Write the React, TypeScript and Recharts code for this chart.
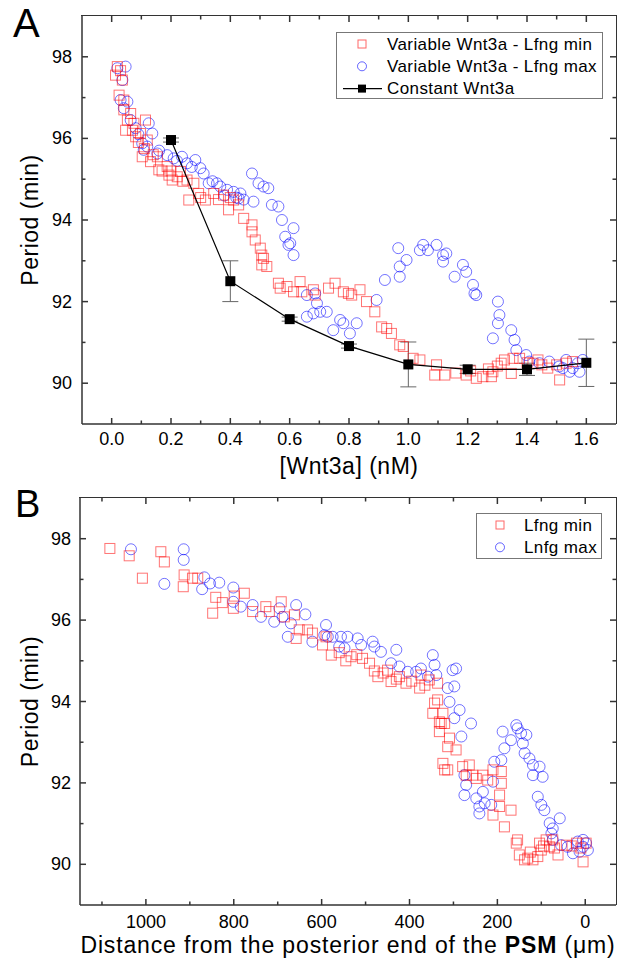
import React from 'react';
import { ScatterChart, Scatter, XAxis, YAxis, ErrorBar, Legend, Label } from 'recharts';

const FONT = '"Liberation Sans", Arial, sans-serif';
const RED = '#ff0000';
const BLUE = '#0000ff';
const AXIS = '#333';

// ---- panel A: period vs [Wnt3a] ----
const aMinX = [
  0.013, 0.019, 0.025, 0.03, 0.036, 0.041, 0.041, 0.047, 0.053, 0.064,
  0.07, 0.075, 0.081, 0.09, 0.097, 0.103, 0.11, 0.114, 0.12, 0.131,
  0.14, 0.154, 0.159, 0.17, 0.187, 0.193, 0.2, 0.204, 0.221, 0.232,
  0.24, 0.254, 0.26, 0.277, 0.293, 0.3, 0.316, 0.344, 0.36, 0.377,
  0.394, 0.4, 0.411, 0.428, 0.445, 0.473, 0.473, 0.484, 0.501, 0.506,
  0.512, 0.506, 0.523, 0.562, 0.568, 0.591, 0.613, 0.635, 0.641, 0.68,
  0.686, 0.731, 0.753, 0.781, 0.798, 0.809, 0.837, 0.859, 0.887, 0.91,
  0.927, 0.943, 0.971, 0.983, 1.016, 1.039, 1.089, 1.095, 1.123, 1.16,
  1.195, 1.21, 1.229, 1.251, 1.27, 1.28, 1.285, 1.3, 1.313, 1.324,
  1.347, 1.353, 1.375, 1.4, 1.42, 1.437, 1.45, 1.47, 1.5, 1.51,
  1.532, 1.554,
];
const aMinY = [
  97.55, 97.76, 97.06, 97.66, 97.43, 96.94, 96.7, 96.2, 96.45, 96.61,
  96.2, 96.37, 96.04, 95.9, 96.12, 95.55, 95.75, 96.45, 95.96, 95.43,
  95.6, 95.55, 95.23, 95.2, 95.31, 95.1, 95.2, 94.98, 95.06, 95.19,
  94.95, 94.98, 94.49, 94.9, 94.65, 94.55, 94.49, 94.65, 94.5, 94.61,
  94.25, 94.55, 94.49, 94.37, 94.04, 93.88, 93.71, 93.51, 93.31, 93.14,
  93.06, 92.9, 92.86, 92.45, 92.33, 92.37, 92.24, 92.49, 92.24, 92.29,
  92.16, 92.33, 92.45, 92.24, 92.2, 92.16, 92.29, 92.0, 91.75, 91.38,
  91.34, 91.22, 90.94, 90.9, 90.61, 90.57, 90.2, 90.45, 90.2, 90.25,
  90.2, 90.3, 90.12, 90.16, 90.35, 90.16, 90.28, 90.42, 90.49, 90.57,
  90.24, 90.61, 90.61, 90.5, 90.49, 90.57, 90.45, 90.37, 90.45, 90.08,
  90.49, 90.53,
];
const aMaxX = [
  0.019, 0.03, 0.036, 0.041, 0.047, 0.053, 0.064, 0.081, 0.09, 0.103,
  0.108, 0.12, 0.125, 0.137, 0.154, 0.16, 0.187, 0.209, 0.22, 0.237,
  0.254, 0.27, 0.282, 0.299, 0.31, 0.327, 0.34, 0.355, 0.366, 0.38,
  0.389, 0.411, 0.42, 0.428, 0.434, 0.445, 0.473, 0.478, 0.495, 0.512,
  0.528, 0.54, 0.562, 0.574, 0.585, 0.596, 0.602, 0.613, 0.613, 0.658,
  0.658, 0.68, 0.686, 0.692, 0.703, 0.725, 0.747, 0.77, 0.781, 0.803,
  0.826, 0.893, 0.921, 0.966, 0.971, 0.971, 0.994, 1.039, 1.05, 1.066,
  1.095, 1.117, 1.117, 1.128, 1.156, 1.184, 1.195, 1.218, 1.223, 1.229,
  1.285, 1.302, 1.302, 1.307, 1.347, 1.358, 1.364, 1.397, 1.408, 1.442,
  1.475, 1.509, 1.521, 1.532, 1.544, 1.554, 1.571, 1.577, 1.588,
];
const aMaxY = [
  97.72, 96.94, 97.43, 96.74, 97.76, 96.9, 96.45, 96.25, 96.1, 95.88,
  95.72, 95.8, 96.37, 96.12, 95.63, 95.7, 95.59, 95.51, 95.45, 95.55,
  95.39, 95.3, 95.47, 95.27, 95.14, 94.9, 94.95, 94.9, 94.82, 94.6,
  94.74, 94.69, 94.55, 94.53, 94.65, 94.5, 95.14, 94.45, 94.9, 94.82,
  94.78, 94.37, 94.33, 94.0, 93.59, 93.39, 93.43, 93.8, 93.14, 92.16,
  91.63, 91.71, 92.2, 91.96, 91.75, 91.75, 91.3, 91.55, 91.47, 91.22,
  91.47, 92.04, 92.53, 93.31, 92.86, 92.61, 93.02, 93.26, 93.39, 93.26,
  93.39, 93.14, 92.98, 93.18, 92.61, 92.9, 92.73, 92.41, 92.2, 92.16,
  91.1, 92.0, 91.47, 91.67, 91.3, 91.06, 90.81, 90.69, 90.53, 90.49,
  90.53, 90.41, 90.37, 90.57, 90.28, 90.37, 90.49, 90.28, 90.57,
];
const constX = [0.2, 0.4, 0.6, 0.8, 1.0, 1.2, 1.4, 1.6];
const constY = [95.96, 92.5, 91.57, 90.91, 90.46, 90.34, 90.34, 90.5];
const constErr = [0.05, 0.5, 0.05, 0.05, 0.55, 0.1, 0.15, 0.58];

const wntTicks = [0, 0.1, 0.2, 0.3, 0.4, 0.5, 0.6, 0.7, 0.8, 0.9, 1.0, 1.1, 1.2, 1.3, 1.4, 1.5, 1.6];
const periodTicks = [90, 91, 92, 93, 94, 95, 96, 97, 98];

// ---- panel B: period vs distance from posterior end ----
const bMinD = [
  1082, 1038, 1008, 966, 958, 913, 915, 894, 882, 841,
  826, 848, 799, 776, 801, 757, 727, 719, 692, 685,
  662, 651, 658, 632, 621, 598, 578, 590, 560, 545,
  533, 520, 507, 491, 480, 472, 460, 450, 442, 430,
  423, 408, 395, 377, 374, 365, 355, 336, 336, 347,
  324, 328, 343, 332, 320, 332, 309, 313, 294, 324,
  320, 313, 279, 264, 271, 256, 248, 233, 222, 210,
  191, 191, 195, 195, 210, 169, 184, 154, 157, 150,
  138, 131, 125, 119, 108, 100, 104, 95, 89, 81,
  74, 70, 62, 43, 30, 20, 10, 5, -2,
];
const bMinY = [
  97.76, 97.58, 97.03, 97.68, 97.43, 97.11, 96.82, 97.03, 97.03, 96.56,
  96.43, 96.17, 96.59, 96.66, 96.29, 96.21, 96.33, 96.21, 96.45, 96.08,
  96.13, 95.76, 95.55, 95.76, 95.68, 95.39, 95.14, 95.59, 95.2, 95.0,
  95.1, 95.15, 95.06, 94.94, 94.75, 94.61, 94.7, 94.77, 94.49, 94.55,
  94.61, 94.45, 94.5, 94.33, 94.65, 94.4, 94.53, 94.45, 94.04, 93.71,
  93.71, 93.46, 93.96, 93.5, 93.46, 93.26, 93.1, 92.89, 92.81, 92.48,
  92.32, 92.32, 92.4, 92.44, 92.19, 92.19, 92.11, 92.19, 92.07, 92.32,
  92.28, 91.99, 91.7, 91.42, 91.21, 91.33, 90.92, 90.6, 90.52, 90.23,
  90.11, 90.15, 90.3, 90.11, 90.19, 90.35, 90.52, 90.45, 90.6, 90.43,
  90.6, 90.4, 90.23, 90.47, 90.45, 90.52, 90.4, 90.06, 90.52,
];
const bMaxD = [
  1034, 914, 914, 958, 867, 872, 854, 833, 801, 801,
  784, 757, 738, 708, 696, 677, 658, 637, 689, 670,
  621, 590, 594, 575, 560, 586, 556, 541, 548, 518,
  510, 484, 480, 465, 430, 442, 423, 404, 385, 374,
  358, 347, 343, 339, 313, 302, 294, 298, 309, 286,
  298, 260, 282, 275, 271, 275, 248, 233, 241, 229,
  214, 241, 210, 207, 191, 184, 188, 169, 157, 154,
  146, 134, 142, 138, 127, 119, 104, 97, 119, 108,
  100, 93, 81, 58, 74, 77, 74, 55, 40, 28,
  17, 5, -2, -6, 13, 5,
];
const bMaxY = [
  97.74, 97.74, 97.48, 96.89, 97.05, 96.76, 96.9, 96.92, 96.8, 96.45,
  96.33, 96.37, 96.08, 95.96, 96.29, 95.59, 96.37, 96.14, 96.08, 95.92,
  95.47, 95.88, 95.63, 95.59, 95.35, 95.59, 95.59, 95.59, 95.31, 95.55,
  95.39, 95.47, 95.35, 95.22, 95.27, 94.94, 94.86, 94.73, 94.73, 94.81,
  94.61, 95.14, 94.9, 94.65, 94.33, 94.77, 94.81, 94.37, 93.99, 93.79,
  93.59, 93.46, 93.14, 92.19, 91.95, 91.7, 91.62, 91.78, 91.42, 91.5,
  91.46, 91.25, 92.03, 92.52, 92.56, 92.85, 93.26, 93.05, 93.42, 93.34,
  93.22, 93.18, 92.97, 92.73, 92.6, 92.44, 92.4, 92.15, 92.19, 91.66,
  91.46, 91.33, 91.01, 91.13, 90.88, 90.76, 90.6, 90.47, 90.43, 90.27,
  90.56, 90.43, 90.52, 90.35, 90.31, 90.6,
];
const distTicks = [0, 100, 200, 300, 400, 500, 600, 700, 800, 900, 1000, 1100];

const legendA = ['Variable Wnt3a - Lfng min', 'Variable Wnt3a - Lfng max', 'Constant Wnt3a'];
const legendB = ['Lfng min', 'Lnfg max'];

const zip = (xs: number[], ys: number[]) => xs.map((x, i) => ({ x, y: ys[i] }));
const aMin = zip(aMinX, aMinY);
const aMax = zip(aMaxX, aMaxY);
const constData = constX.map((x, i) => ({ x, y: constY[i], err: constErr[i] }));
const bMin = zip(bMinD, bMinY);
const bMax = zip(bMaxD, bMaxY);

const Square = (p: any) => (
  <rect x={p.cx - 5} y={p.cy - 5} width={10} height={10} fill="none" stroke={RED} strokeOpacity={0.55} strokeWidth={1} />
);
const Circle = (p: any) => (
  <circle cx={p.cx} cy={p.cy} r={5.5} fill="none" stroke={BLUE} strokeOpacity={0.55} strokeWidth={1} />
);
const Filled = (p: any) => <rect x={p.cx - 5} y={p.cy - 5} width={10} height={10} fill="#000" />;

// plot box sizes (chart size minus margins / axis bands)
const A_W = 534;
const A_H = 408;
const B_W = 536;
const B_H = 407;

// ticks point into the plot, Origin style, and are repeated on the opposite frame side;
// labels only on majors
function tickFor(side: 'bottom' | 'left', span: number, isMajor: (v: number) => boolean, fmt: (v: number) => string, gap: number) {
  return (p: any) => {
    const v = p.payload.value;
    const major = isMajor(v);
    const len = major ? 6 : 3.5;
    const x = p.x;
    const y = p.y;
    const tstyle = { fontSize: 18, fontFamily: FONT, fill: '#000' };
    if (side === 'bottom') {
      return (
        <g>
          <line x1={x} y1={y} x2={x} y2={y - len} stroke={AXIS} strokeWidth={1.5} />
          <line x1={x} y1={y - span} x2={x} y2={y - span + len} stroke={AXIS} strokeWidth={1.5} />
          {major ? (
            <text x={x} y={y + gap} textAnchor="middle" dominantBaseline="central" style={tstyle}>{fmt(v)}</text>
          ) : null}
        </g>
      );
    }
    return (
      <g>
        <line x1={x} y1={y} x2={x + len} y2={y} stroke={AXIS} strokeWidth={1.5} />
        <line x1={x + span} y1={y} x2={x + span - len} y2={y} stroke={AXIS} strokeWidth={1.5} />
        {major ? (
          <text x={x - gap} y={y} textAnchor="end" dominantBaseline="central" style={tstyle}>{fmt(v)}</text>
        ) : null}
      </g>
    );
  };
}

const evenMajor = (v: number) => Math.round(v) % 2 === 0;
const wntMajor = (v: number) => Math.round(v * 10) % 2 === 0;
const distMajor = (v: number) => v % 200 === 0;

const titleStyle = { fontSize: 23, fontFamily: FONT, fill: '#000', letterSpacing: 0.5 };

const periodLabel = (p: any) => {
  const vb = p.viewBox;
  const cy = vb.y + vb.height / 2;
  return (
    <text x={30} y={cy} transform={`rotate(-90, 30, ${cy})`} textAnchor="middle" dominantBaseline="central" style={titleStyle}>
      Period (min)
    </text>
  );
};

const wntLabel = (p: any) => {
  const vb = p.viewBox;
  return (
    <text x={vb.x + vb.width / 2} y={vb.y + 42} textAnchor="middle" dominantBaseline="central" style={titleStyle}>
      [Wnt3a] (nM)
    </text>
  );
};

const distLabel = (p: any) => {
  const vb = p.viewBox;
  return (
    <text
      x={vb.x + vb.width / 2} y={vb.y + 40} textAnchor="middle" dominantBaseline="central"
      style={{ ...titleStyle, letterSpacing: 0.85 }}
    >
      Distance from the posterior end of the <tspan fontWeight="bold">PSM</tspan> (μm)
    </text>
  );
};

function LegendBox({ labels, width, height, symX, textX }: any) {
  return (
    <svg width={width} height={height} style={{ display: 'block' }}>
      <rect x={0.5} y={0.5} width={width - 1} height={height - 1} fill="#fff" stroke="#777" strokeWidth={1} />
      {labels.map((lab: string, i: number) => {
        const cy = 12 + i * 22.3;
        let sym;
        if (i === 0) sym = <rect x={symX - 4} y={cy - 4} width={8} height={8} fill="none" stroke={RED} strokeOpacity={0.6} />;
        else if (i === 1) sym = <circle cx={symX} cy={cy} r={4.5} fill="none" stroke={BLUE} strokeOpacity={0.6} />;
        else
          sym = (
            <g>
              <line x1={symX - 19} y1={cy} x2={symX + 20} y2={cy} stroke="#000" strokeWidth={1.2} />
              <rect x={symX - 4} y={cy - 4} width={8} height={8} fill="#000" />
            </g>
          );
        return (
          <g key={lab}>
            {sym}
            <text x={textX} y={cy} dominantBaseline="central" style={{ fontSize: 17, fontFamily: FONT, fill: '#000', letterSpacing: 0.4 }}>
              {lab}
            </text>
          </g>
        );
      })}
    </svg>
  );
}

// top / right edges of each plot box
const frameStyle = (left: number, top: number, w: number, h: number) => ({
  position: 'absolute' as const,
  left, top, width: w, height: h,
  borderTop: `1.5px solid ${AXIS}`,
  borderRight: `1.5px solid ${AXIS}`,
  boxSizing: 'border-box' as const,
  pointerEvents: 'none' as const,
});

export default function App() {
  return (
    <div style={{ position: 'absolute', left: 0, top: 0, width: 625, height: 963, background: '#fff', overflow: 'hidden' }}>
      <div style={{ position: 'absolute', left: 0, top: 0 }}>
        <ScatterChart width={625} height={480} margin={{ top: 16, right: 9, left: 0, bottom: 0 }}>
          <XAxis
            dataKey="x" type="number" domain={[-0.1, 1.7]} allowDataOverflow ticks={wntTicks} interval={0}
            height={56} tickSize={0} tickMargin={0} tickLine={false}
            axisLine={{ stroke: AXIS, strokeWidth: 1.5 }}
            tick={tickFor('bottom', A_H, wntMajor, (v) => v.toFixed(1), 15)}
          >
            <Label content={wntLabel} />
          </XAxis>
          <YAxis
            dataKey="y" type="number" domain={[89, 99]} allowDataOverflow ticks={periodTicks} interval={0}
            width={82} tickSize={0} tickMargin={0} tickLine={false}
            axisLine={{ stroke: AXIS, strokeWidth: 1.5 }}
            tick={tickFor('left', A_W, evenMajor, (v) => String(v), 10)}
          >
            <Label content={periodLabel} />
          </YAxis>
          <Scatter name={legendA[1]} data={aMax} shape={Circle} isAnimationActive={false} />
          <Scatter name={legendA[0]} data={aMin} shape={Square} isAnimationActive={false} />
          <Scatter
            name={legendA[2]} data={constData} shape={Filled} line={{ stroke: '#000', strokeWidth: 1.2 }}
            lineType="joint" isAnimationActive={false}
          >
            <ErrorBar dataKey="err" direction="y" width={8} stroke="#666" strokeWidth={1} />
          </Scatter>
          <Legend
            layout="horizontal" verticalAlign="middle" align="center"
            wrapperStyle={{ left: 336, top: 32, width: 267, height: 67 }}
            content={() => <LegendBox labels={legendA} width={267} height={67} symX={26} textX={51} />}
          />
        </ScatterChart>
      </div>
      <div style={frameStyle(81, 15.25, 535.75, 409)} />
      <div style={{ position: 'absolute', left: 0, top: 480 }}>
        <ScatterChart width={625} height={483} margin={{ top: 18, right: 9, left: 0, bottom: 0 }}>
          <XAxis
            dataKey="x" type="number" domain={[-70, 1150]} allowDataOverflow reversed ticks={distTicks} interval={0}
            height={58} tickSize={0} tickMargin={0} tickLine={false}
            axisLine={{ stroke: AXIS, strokeWidth: 1.5 }}
            tick={tickFor('bottom', B_H, distMajor, (v) => String(v), 17)}
          >
            <Label content={distLabel} />
          </XAxis>
          <YAxis
            dataKey="y" type="number" domain={[89, 99]} allowDataOverflow ticks={periodTicks} interval={0}
            width={80} tickSize={0} tickMargin={0} tickLine={false}
            axisLine={{ stroke: AXIS, strokeWidth: 1.5 }}
            tick={tickFor('left', B_W, evenMajor, (v) => String(v), 9)}
          >
            <Label content={periodLabel} />
          </YAxis>
          <Scatter name={legendB[1]} data={bMax} shape={Circle} isAnimationActive={false} />
          <Scatter name={legendB[0]} data={bMin} shape={Square} isAnimationActive={false} />
          <Legend
            layout="horizontal" verticalAlign="middle" align="center"
            wrapperStyle={{ left: 476, top: 33, width: 126, height: 46 }}
            content={() => <LegendBox labels={legendB} width={126} height={46} symX={24} textX={48} />}
          />
        </ScatterChart>
      </div>
      <div style={frameStyle(79, 497.25, 537.75, 408)} />
      <div style={{ position: 'absolute', left: 13, top: 3, fontSize: 40, lineHeight: '40px', fontFamily: FONT }}>A</div>
      <div style={{ position: 'absolute', left: 15, top: 485, fontSize: 38, lineHeight: '38px', fontFamily: FONT }}>B</div>
    </div>
  );
}
